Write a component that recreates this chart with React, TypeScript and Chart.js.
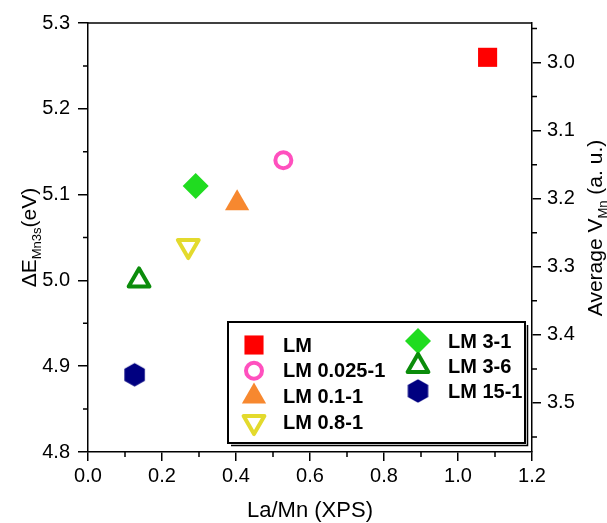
import React, { useEffect, useRef } from 'react';
import { Chart, registerables } from 'chart.js';
import { drawPoint } from 'chart.js/helpers';

Chart.register(...registerables);

// ---- data ----
const seriesNames = ['LM', 'LM 0.025-1', 'LM 0.1-1', 'LM 0.8-1', 'LM 3-1', 'LM 3-6', 'LM 15-1'];
const laMnXps = [1.08, 0.528, 0.403, 0.271, 0.291, 0.138, 0.126];
const deltaEMn3s = [5.26, 5.14, 5.09, 5.04, 5.11, 5.0, 4.89];
const xTicks = [0, 0.2, 0.4, 0.6, 0.8, 1.0, 1.2];
const xMinorTicks = [0.1, 0.3, 0.5, 0.7, 0.9, 1.1];
const leftTicks = [4.8, 4.9, 5.0, 5.1, 5.2, 5.3];
const leftMinorTicks = [4.85, 4.95, 5.05, 5.15, 5.25];
const rightTicks = [3.0, 3.1, 3.2, 3.3, 3.4, 3.5];
const rightMinorTicks = [2.95, 3.05, 3.15, 3.25, 3.35, 3.45, 3.55];
const legendCol1 = [0, 1, 2, 3];
const legendCol2 = [4, 5, 6];

const FONT = '"Liberation Sans", Arial, Helvetica, sans-serif';

function makeHexagon(color: string, r: number): HTMLCanvasElement {
  const w = Math.ceil(r * Math.sqrt(3)) + 2;
  const h = Math.ceil(2 * r) + 2;
  const c = document.createElement('canvas');
  c.width = w;
  c.height = h;
  const ctx = c.getContext('2d')!;
  ctx.fillStyle = color;
  ctx.beginPath();
  for (let k = 0; k < 6; k++) {
    const a = -Math.PI / 2 + (k * Math.PI) / 3;
    const px = w / 2 + r * Math.cos(a);
    const py = h / 2 + r * Math.sin(a);
    if (k === 0) ctx.moveTo(px, py);
    else ctx.lineTo(px, py);
  }
  ctx.closePath();
  ctx.fill();
  return c;
}

type Sty = { style: any; radius: number; bg: string; border: string; bw: number; rot: number };

function buildStyles(): Sty[] {
  return [
    { style: 'rect', radius: 13.5, bg: '#FF0000', border: '#FF0000', bw: 0, rot: 0 },
    { style: 'circle', radius: 8, bg: 'rgba(255,255,255,0)', border: '#FF50BE', bw: 4, rot: 0 },
    { style: 'triangle', radius: 14, bg: '#F7882F', border: '#F7882F', bw: 0, rot: 0 },
    { style: 'triangle', radius: 12, bg: 'rgba(255,255,255,0)', border: '#E3DA2D', bw: 4, rot: 180 },
    { style: 'rectRot', radius: 13, bg: '#20DC20', border: '#20DC20', bw: 0, rot: 0 },
    { style: 'triangle', radius: 12, bg: 'rgba(255,255,255,0)', border: '#0B8C0B', bw: 4, rot: 0 },
    { style: makeHexagon('#000080', 11.8), radius: 12, bg: '#000080', border: '#000080', bw: 0, rot: 0 },
  ];
}

function drawRich(ctx: CanvasRenderingContext2D, parts: { t: string; sub?: boolean }[], x: number, y: number, rot: number, size: number) {
  ctx.save();
  ctx.translate(x, y);
  ctx.rotate(rot);
  ctx.fillStyle = '#000';
  ctx.textBaseline = 'alphabetic';
  ctx.textAlign = 'left';
  const subSize = Math.round(size * 0.64);
  let total = 0;
  const widths = parts.map((p) => {
    ctx.font = `${p.sub ? subSize : size}px ${FONT}`;
    const w = ctx.measureText(p.t).width;
    total += w;
    return w;
  });
  let cx = -total / 2;
  parts.forEach((p, i) => {
    ctx.font = `${p.sub ? subSize : size}px ${FONT}`;
    ctx.fillText(p.t, cx, p.sub ? 5 : 0);
    cx += widths[i];
  });
  ctx.restore();
}

export default function App() {
  const ref = useRef<HTMLCanvasElement | null>(null);

  useEffect(() => {
    if (!ref.current) return;
    const styles = buildStyles();

    const datasets = seriesNames.map((name, i) => ({
      label: name,
      data: [{ x: laMnXps[i], y: deltaEMn3s[i] }],
      pointStyle: styles[i].style,
      pointRadius: styles[i].radius,
      pointBackgroundColor: styles[i].bg,
      pointBorderColor: styles[i].border,
      pointBorderWidth: styles[i].bw,
      pointRotation: styles[i].rot,
      showLine: false,
      xAxisID: 'x',
      yAxisID: 'y',
    }));

    const joinRound = {
      id: 'joinRound',
      beforeDatasetsDraw(chart: any) {
        chart.ctx.save();
        chart.ctx.lineJoin = 'round';
      },
      afterDatasetsDraw(chart: any) {
        chart.ctx.restore();
      },
    };

    const decor = {
      id: 'decor',
      afterDraw(chart: any) {
        const ctx: CanvasRenderingContext2D = chart.ctx;
        const { left, right, top, bottom } = chart.chartArea;
        const sx = chart.scales.x;
        const sy = chart.scales.y;
        const sy2 = chart.scales.y2;
        ctx.save();
        ctx.strokeStyle = '#000';
        ctx.lineWidth = 1.5;
        // top frame line
        ctx.beginPath();
        ctx.moveTo(left, top);
        ctx.lineTo(right, top);
        ctx.stroke();
        // minor ticks
        ctx.beginPath();
        xMinorTicks.forEach((v) => {
          const px = sx.getPixelForValue(v);
          ctx.moveTo(px, bottom);
          ctx.lineTo(px, bottom + 5);
        });
        leftMinorTicks.forEach((v) => {
          const py = sy.getPixelForValue(v);
          ctx.moveTo(left, py);
          ctx.lineTo(left - 5, py);
        });
        rightMinorTicks.forEach((v) => {
          const py = sy2.getPixelForValue(v);
          ctx.moveTo(right, py);
          ctx.lineTo(right + 5, py);
        });
        ctx.stroke();

        // axis titles
        drawRich(ctx, [{ t: 'La/Mn (XPS)' }], (left + right) / 2, 517, 0, 22);
        drawRich(ctx, [{ t: '\u0394E' }, { t: 'Mn3s', sub: true }, { t: '(eV)' }], 36, (top + bottom) / 2, -Math.PI / 2, 21);
        drawRich(ctx, [{ t: 'Average V' }, { t: 'Mn', sub: true }, { t: ' (a. u.)' }], 602, 228, -Math.PI / 2, 21);

        // legend
        const bx1 = 228;
        const by1 = 322;
        const bx2 = right - 7;
        const by2 = bottom - 9;
        ctx.fillStyle = '#fff';
        ctx.fillRect(bx1, by1, bx2 - bx1, by2 - by1);
        ctx.strokeStyle = '#000';
        ctx.lineWidth = 2;
        ctx.strokeRect(bx1, by1, bx2 - bx1, by2 - by1);
        ctx.lineWidth = 1.5;
        ctx.beginPath();
        ctx.moveTo(bx1 + 3, by2 + 2.5);
        ctx.lineTo(bx2 + 2.5, by2 + 2.5);
        ctx.lineTo(bx2 + 2.5, by1 + 3);
        ctx.stroke();

        const drawEntry = (i: number, mx: number, tx: number, y: number) => {
          const s = styles[i];
          ctx.save();
          ctx.fillStyle = s.bg;
          ctx.strokeStyle = s.border;
          ctx.lineWidth = s.bw;
          ctx.lineJoin = 'round';
          drawPoint(ctx, { pointStyle: s.style, rotation: s.rot, radius: s.radius, borderWidth: s.bw } as any, mx, y);
          ctx.restore();
          ctx.fillStyle = '#000';
          ctx.font = `bold 20px ${FONT}`;
          ctx.textBaseline = 'middle';
          ctx.textAlign = 'left';
          ctx.fillText(seriesNames[i], tx, y + 1);
        };
        legendCol1.forEach((idx, r) => drawEntry(idx, 254, 283, 345 + r * 25.7));
        legendCol2.forEach((idx, r) => drawEntry(idx, 418, 448, 341 + r * 25));
        ctx.restore();
      },
    };

    const tickFont = { size: 20, family: FONT };
    const chart = new Chart(ref.current, {
      type: 'scatter',
      data: { datasets } as any,
      options: {
        animation: false,
        responsive: true,
        maintainAspectRatio: false,
        events: [],
        layout: { padding: { top: 23, left: 0, right: 0, bottom: 0 } },
        plugins: { legend: { display: false }, tooltip: { enabled: false } },
        scales: {
          x: {
            type: 'linear',
            position: 'bottom',
            min: 0,
            max: 1.2,
            afterBuildTicks: (s: any) => {
              s.ticks = xTicks.map((v) => ({ value: v }));
            },
            afterFit: (s: any) => {
              s.height = 71;
            },
            ticks: {
              callback: (v: any) => Number(v).toFixed(1),
              font: tickFont,
              color: '#000',
              padding: 3,
              maxRotation: 0,
              autoSkip: false,
            },
            grid: { drawOnChartArea: false, drawTicks: true, tickLength: 9, color: '#000', lineWidth: 1.5 },
            border: { display: true, color: '#000', width: 1.5 },
          },
          y: {
            type: 'linear',
            position: 'left',
            min: 4.8,
            max: 5.3,
            afterBuildTicks: (s: any) => {
              s.ticks = leftTicks.map((v) => ({ value: v }));
            },
            afterFit: (s: any) => {
              s.width = 88;
            },
            ticks: {
              callback: (v: any) => Number(v).toFixed(1),
              font: tickFont,
              color: '#000',
              padding: 8,
              autoSkip: false,
            },
            grid: { drawOnChartArea: false, drawTicks: true, tickLength: 10, color: '#000', lineWidth: 1.5 },
            border: { display: true, color: '#000', width: 1.5 },
          },
          y2: {
            type: 'linear',
            position: 'right',
            display: true,
            reverse: true,
            min: 2.942,
            max: 3.572,
            afterBuildTicks: (s: any) => {
              s.ticks = rightTicks.map((v) => ({ value: v }));
            },
            afterFit: (s: any) => {
              s.width = 75;
            },
            ticks: {
              callback: (v: any) => Number(v).toFixed(1),
              font: tickFont,
              color: '#000',
              padding: 6,
              autoSkip: false,
            },
            grid: { drawOnChartArea: false, drawTicks: true, tickLength: 9, color: '#000', lineWidth: 1.5 },
            border: { display: true, color: '#000', width: 1.5 },
          },
        },
      } as any,
      plugins: [joinRound, decor],
    });
    return () => chart.destroy();
  }, []);

  return (
    <div style={{ position: 'absolute', left: 0, top: 0, width: 607, height: 523, background: '#fff' }}>
      <canvas ref={ref} />
    </div>
  );
}
